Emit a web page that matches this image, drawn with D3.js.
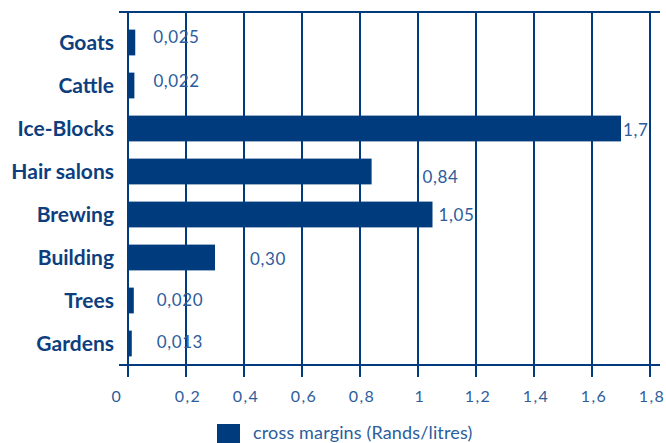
<!DOCTYPE html>
<html>
<head>
<meta charset="utf-8">
<script src="https://cdn.jsdelivr.net/npm/d3@7"></script>
<style>
  html, body { margin: 0; padding: 0; background: #fff; }
  svg { display: block; }
</style>
</head>
<body>
<svg id="chart" width="666" height="443"></svg>
<script>
// Activities, top to bottom
const categories = ["Goats", "Cattle", "Ice-Blocks", "Hair salons", "Brewing", "Building", "Trees", "Gardens"];
// Gross margins as printed next to each bar (Rands/litres)
const marginLabels = ["0,025", "0,022", "1,7", "0,84", "1,05", "0,30", "0,020", "0,013"];
const margins = marginLabels.map(s => +s.replace(",", "."));
const tickValues = [0, 0.2, 0.4, 0.6, 0.8, 1, 1.2, 1.4, 1.6, 1.8];
const seriesName = "cross margins (Rands/litres)";

// Hand-placed value labels: gap after the bar end and vertical nudge
const labelGap = [18, 19, 2, 51, 6, 35, 23, 25];
const labelDy = [-5, -4, 2, 6, 1, 2, 0, -1];

const navy = "#003c7d";
const textNavy = "#0d3f7e";
const softNavy = "#2c5d9c";

const svg = d3.select("#chart");
const plotLeft = 128, plotRight = 650, plotTop = 12, plotBottom = 365;

const x = d3.scaleLinear().domain([0, 1.8]).range([plotLeft, plotRight]);
const y = d3.scaleBand().domain(categories).range([21, plotBottom]).paddingInner(0.4).paddingOuter(0.2);

const fmt = d3.formatLocale({ decimal: ",", thousands: ".", grouping: [3], currency: ["", ""] }).format("~g");

// vertical gridlines + ticks below the axis
svg.append("g").selectAll("line").data(tickValues).join("line")
  .attr("x1", d => x(d)).attr("x2", d => x(d))
  .attr("y1", plotTop).attr("y2", plotBottom + 12)
  .attr("stroke", navy).attr("stroke-width", 2);

// top frame line and bottom axis line
svg.append("line").attr("x1", 119).attr("x2", 660).attr("y1", plotTop).attr("y2", plotTop)
  .attr("stroke", navy).attr("stroke-width", 2);
svg.append("line").attr("x1", 119).attr("x2", 660).attr("y1", plotBottom).attr("y2", plotBottom)
  .attr("stroke", navy).attr("stroke-width", 2);

// bars
svg.append("g").selectAll("rect").data(categories).join("rect")
  .attr("x", x(0))
  .attr("y", d => y(d))
  .attr("width", (d, i) => x(margins[i]) - x(0))
  .attr("height", y.bandwidth())
  .attr("fill", navy);

// category labels
svg.append("g").selectAll("text").data(categories).join("text")
  .attr("x", 114)
  .attr("y", d => y(d) + y.bandwidth() / 2)
  .attr("dy", "0.35em")
  .attr("text-anchor", "end")
  .attr("font-family", "Lato, sans-serif")
  .attr("font-weight", "bold")
  .attr("font-size", 21)
  .attr("fill", textNavy)
  .text(d => d);

// value labels
svg.append("g").selectAll("text").data(categories).join("text")
  .attr("x", (d, i) => x(margins[i]) + labelGap[i])
  .attr("y", (d, i) => y(d) + y.bandwidth() / 2 + labelDy[i])
  .attr("dy", "0.35em")
  .attr("font-family", "Lato, sans-serif")
  .attr("font-size", 17)
  .attr("letter-spacing", 0.6)
  .attr("fill", softNavy)
  .text((d, i) => marginLabels[i]);

// x tick labels
svg.append("g").selectAll("text").data(tickValues).join("text")
  .attr("x", d => x(d) + (d === 0 ? -11 : 2))
  .attr("y", 396)
  .attr("dy", "0.35em")
  .attr("text-anchor", "middle")
  .attr("font-family", "Lato, sans-serif")
  .attr("font-size", 16)
  .attr("letter-spacing", 1.5)
  .attr("fill", softNavy)
  .text(d => fmt(d));

// legend
const legend = svg.append("g");
legend.append("rect").attr("x", 217).attr("y", 424).attr("width", 23).attr("height", 20).attr("fill", navy);
legend.append("text")
  .attr("x", 253).attr("y", 433).attr("dy", "0.35em")
  .attr("font-family", "Lato, sans-serif")
  .attr("font-size", 18)
  .attr("letter-spacing", 0.15)
  .attr("fill", softNavy)
  .text(seriesName);
</script>
</body>
</html>
